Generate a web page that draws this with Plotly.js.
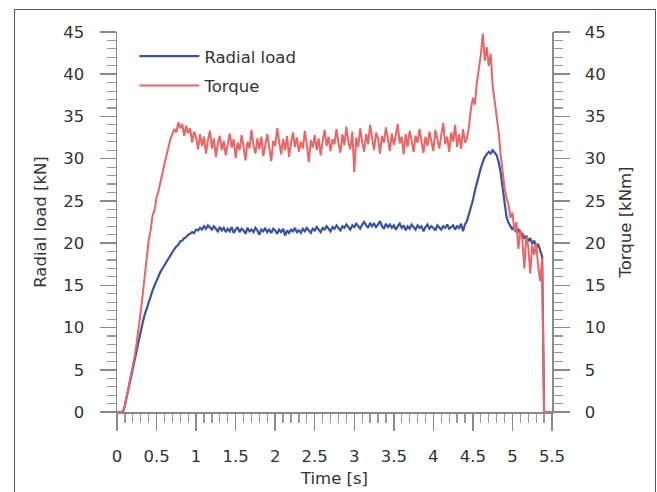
<!DOCTYPE html>
<html>
<head>
<meta charset="utf-8">
<script src="https://cdn.plot.ly/plotly-3.0.1.min.js"></script>
<style>
  html, body { margin: 0; padding: 0; background: #fff; }
  #wrap { position: relative; width: 657px; height: 492px; overflow: hidden; }
  #chart { position: absolute; left: 0; top: 0; width: 657px; height: 492px; }
  #frame { position: absolute; left: 14px; top: 9px; width: 640px; height: 520px; border: 1px solid #555; pointer-events: none; }
</style>
</head>
<body>
<div id="wrap"><div id="chart"></div><div id="frame"></div></div>
<script>
// Time base [s]
var time = [
  0,0.025,0.05,0.075,0.1,0.125,0.15,0.175,0.2,0.225,
  0.25,0.275,0.3,0.325,0.35,0.375,0.4,0.425,0.45,0.475,
  0.5,0.525,0.55,0.575,0.6,0.625,0.65,0.675,0.7,0.725,
  0.75,0.775,0.8,0.825,0.85,0.875,0.9,0.925,0.95,0.975,
  1.0,1.025,1.05,1.075,1.1,1.125,1.15,1.175,1.2,1.225,
  1.25,1.275,1.3,1.325,1.35,1.375,1.4,1.425,1.45,1.475,
  1.5,1.525,1.55,1.575,1.6,1.625,1.65,1.675,1.7,1.725,
  1.75,1.775,1.8,1.825,1.85,1.875,1.9,1.925,1.95,1.975,
  2.0,2.025,2.05,2.075,2.1,2.125,2.15,2.175,2.2,2.225,
  2.25,2.275,2.3,2.325,2.35,2.375,2.4,2.425,2.45,2.475,
  2.5,2.525,2.55,2.575,2.6,2.625,2.65,2.675,2.7,2.725,
  2.75,2.775,2.8,2.825,2.85,2.875,2.9,2.925,2.95,2.975,
  3.0,3.025,3.05,3.075,3.1,3.125,3.15,3.175,3.2,3.225,
  3.25,3.275,3.3,3.325,3.35,3.375,3.4,3.425,3.45,3.475,
  3.5,3.525,3.55,3.575,3.6,3.625,3.65,3.675,3.7,3.725,
  3.75,3.775,3.8,3.825,3.85,3.875,3.9,3.925,3.95,3.975,
  4.0,4.025,4.05,4.075,4.1,4.125,4.15,4.175,4.2,4.225,
  4.25,4.275,4.3,4.325,4.35,4.375,4.4,4.425,4.45,4.475,
  4.5,4.525,4.55,4.575,4.6,4.625,4.65,4.675,4.7,4.725,
  4.75,4.775,4.8,4.825,4.85,4.875,4.9,4.925,4.95,4.975,
  5.0,5.025,5.05,5.075,5.1,5.125,5.15,5.175,5.2,5.225,
  5.25,5.275,5.3,5.325,5.35,5.375,5.4,5.425,5.45,5.475,
  5.5
];

// Radial load [kN]
var radialLoad = [
  0,0,0,0,0.8,1.9,3.0,4.1,5.2,6.4,
  7.6,8.7,9.6,10.6,11.5,12.3,13.0,13.7,14.4,15.0,
  15.6,16.1,16.6,17.0,17.4,17.8,18.2,18.6,18.9,19.3,
  19.6,19.8,20.2,20.3,20.6,20.7,21.0,21.1,21.3,21.2,
  21.6,21.5,21.8,21.6,22.0,21.7,22.1,21.8,21.6,22.0,
  21.7,21.4,21.9,21.5,21.8,21.3,21.7,21.4,21.9,21.2,
  21.6,21.9,21.3,21.7,21.5,21.1,21.8,21.4,21.6,21.3,
  21.8,21.5,21.0,21.6,21.4,21.8,21.3,21.6,21.2,21.7,
  21.5,21.1,21.6,21.3,21.7,20.9,21.5,21.2,21.6,21.4,
  21.8,21.3,21.5,21.2,21.7,21.4,21.8,21.5,21.2,21.7,
  21.5,21.9,21.6,21.3,21.8,21.6,22.0,21.7,21.4,21.9,
  21.7,22.1,21.8,21.5,22.0,21.8,22.2,21.9,21.6,22.1,
  21.9,22.3,22.0,21.7,22.2,22.5,22.1,21.8,22.4,22.0,
  22.3,21.9,22.2,22.6,22.0,21.7,22.3,21.9,22.2,21.8,
  22.1,21.6,22.0,22.3,21.8,22.1,21.5,22.0,21.7,22.2,
  21.9,21.6,22.1,21.8,22.0,21.4,21.9,22.2,21.7,22.0,
  21.8,21.5,22.1,21.9,21.6,22.0,21.8,22.2,21.7,21.9,
  22.1,21.6,22.0,21.8,22.3,21.4,22.2,22.6,23.4,24.3,
  25.1,26.2,27.2,28.2,28.9,29.6,30.2,30.5,30.8,30.6,
  31.0,30.7,30.4,29.6,28.4,26.6,24.5,23.1,22.4,22.0,
  21.6,22.1,21.3,21.7,20.9,21.2,20.5,20.9,20.2,20.6,
  19.9,20.3,19.5,19.9,19.2,18.4,0,0,0,0,
  0
];

// Torque [kNm]
var torque = [
  0,0,0,0,0.8,1.9,3.0,4.1,5.3,6.7,
  8.3,9.9,11.9,13.9,16.0,17.5,20.3,21.5,23.3,23.9,
  25.4,26.2,27.5,28.3,29.4,30.5,31.2,32.3,32.9,33.5,
  33.1,34.3,33.6,34.1,32.7,33.9,33.0,33.6,31.9,33.2,
  32.5,31.1,32.9,31.5,32.6,30.6,32.2,33.3,31.2,32.4,
  30.2,31.8,32.7,31.0,32.1,30.4,31.7,33.0,31.3,32.3,
  30.1,31.9,31.0,32.8,31.4,29.8,32.0,31.2,33.4,31.6,
  30.6,32.4,31.1,32.6,30.3,31.8,32.9,31.3,29.7,32.1,
  31.5,33.6,31.7,30.5,32.3,31.0,32.7,30.2,31.9,33.1,
  31.4,32.5,30.8,32.0,31.2,33.3,31.6,29.6,32.2,31.3,
  32.8,31.0,32.4,30.4,32.1,33.4,31.5,32.6,30.9,32.3,
  31.7,33.5,31.8,30.7,32.9,31.6,33.8,32.0,31.1,33.2,
  28.4,32.5,31.4,33.6,32.0,30.8,32.9,31.7,34.0,32.2,
  31.0,33.1,32.4,30.6,32.7,31.9,33.7,32.3,30.9,33.0,
  31.6,32.8,34.1,31.8,32.6,30.5,32.9,31.4,33.3,32.1,
  30.8,32.7,31.9,33.5,32.2,30.7,32.6,31.5,33.2,32.0,
  30.9,33.4,32.3,31.2,32.8,34.2,31.7,32.6,30.8,33.1,
  32.0,34.0,31.4,32.9,31.2,33.5,31.9,32.4,33.8,35.9,
  37.2,36.4,39.0,40.5,42.3,44.8,41.6,43.2,41.0,42.4,
  38.6,36.8,34.9,33.2,30.5,28.2,26.5,25.3,24.6,23.0,
  23.6,21.4,22.5,19.3,21.6,20.4,17.0,20.8,19.6,16.4,
  19.8,18.6,20.0,17.2,15.5,18.2,0,0,0,0,
  0
];

// Tick labels
var xTickVals = [0,0.5,1,1.5,2,2.5,3,3.5,4,4.5,5,5.5];
var xTickText = ['0','0.5','1','1.5','2','2.5','3','3.5','4','4.5','5','5.5'];
var yTickVals = [0,5,10,15,20,25,30,35,40,45];
var yTickText = ['0','5','10','15','20','25','30','35','40','45'];

var axisGray = '#8a8a8a';
var txt = '#333333';
var fontFam = 'DejaVu Sans, Liberation Sans, Arial, sans-serif';
var fs = 16.5;

var traces = [
  {
    x: time, y: radialLoad, name: 'Radial load', type: 'scatter', mode: 'lines',
    line: {color: '#3a52a6', width: 2.2}, yaxis: 'y', legendgroup: 'a'
  },
  {
    x: time, y: torque, name: 'Torque', type: 'scatter', mode: 'lines',
    line: {color: '#ec6464', width: 2}, yaxis: 'y2', legendgroup: 'b'
  }
];

function yAxisCommon(side) {
  return {
    range: [0, 45], tickvals: yTickVals, ticktext: yTickText,
    ticks: 'outside', ticklen: 16, tickwidth: 1.5, tickcolor: axisGray,
    showline: true, linecolor: axisGray, linewidth: 1.5,
    showgrid: false, zeroline: false, side: side,
    ticklabelstandoff: 12,
    tickfont: {family: fontFam, size: fs, color: txt},
    minor: {dtick: 1, ticks: 'outside', ticklen: 9, tickwidth: 1.2, tickcolor: '#999', showgrid: false},
    fixedrange: true
  };
}

var yaxis = yAxisCommon('left');
yaxis.title = {text: 'Radial load [kN]', font: {family: fontFam, size: fs, color: txt}, standoff: 12};
var yaxis2 = yAxisCommon('right');
yaxis2.overlaying = 'y';
yaxis2.title = {text: 'Torque [kNm]', font: {family: fontFam, size: fs, color: txt}, standoff: 14};

var layout = {
  width: 657, height: 492,
  margin: {l: 117, r: 105, t: 32, b: 80, autoexpand: false},
  paper_bgcolor: '#ffffff', plot_bgcolor: '#ffffff',
  font: {family: fontFam, size: fs, color: txt},
  showlegend: true,
  legend: {
    x: 0.04, y: 0.982, xanchor: 'left', yanchor: 'top',
    bgcolor: 'rgba(0,0,0,0)', borderwidth: 0,
    font: {family: fontFam, size: fs, color: txt},
    itemwidth: 60, traceorder: 'grouped', tracegroupgap: 5
  },
  xaxis: {
    range: [0, 5.5], tickvals: xTickVals, ticktext: xTickText,
    ticks: 'outside', ticklen: 17, tickwidth: 1.5, tickcolor: axisGray,
    showline: true, linecolor: axisGray, linewidth: 1.5,
    showgrid: false, zeroline: false,
    ticklabelstandoff: 12,
    tickfont: {family: fontFam, size: fs, color: txt},
    minor: {dtick: 0.1, ticks: 'outside', ticklen: 9, tickwidth: 1.2, tickcolor: '#999', showgrid: false},
    title: {text: 'Time [s]', font: {family: fontFam, size: fs, color: txt}, standoff: 7},
    fixedrange: true
  },
  yaxis: yaxis,
  yaxis2: yaxis2
};

Plotly.newPlot('chart', traces, layout, {displayModeBar: false, staticPlot: true});
</script>
</body>
</html>
